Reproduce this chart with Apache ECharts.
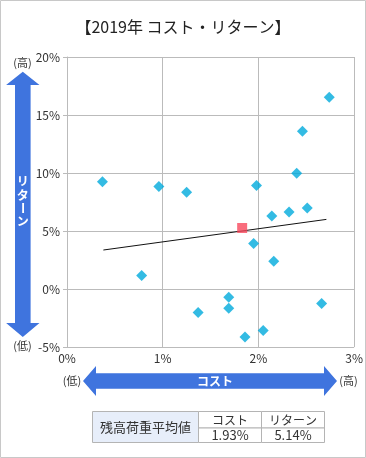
<!DOCTYPE html>
<html><head><meta charset="utf-8">
<script src="https://cdn.jsdelivr.net/npm/echarts@6/dist/echarts.min.js"></script>
<style>html,body{margin:0;padding:0;background:#fff}#c{width:366px;height:458px}</style>
</head><body><div id="c"></div>
<script>
var titleText = '【2019年 コスト・リターン】';
var xTicks = [0, 1, 2, 3];
var yTicks = [-5, 0, 5, 10, 15, 20];
// cost (%) and return (%) of each fund
var costs = [0.37, 0.96, 1.25, 0.78, 1.37, 1.69, 1.69, 1.86, 2.05, 1.95, 2.16, 1.98, 2.14, 2.32, 2.51, 2.40, 2.46, 2.74, 2.66];
var returns = [9.25, 8.84, 8.33, 1.17, -2.02, -0.72, -1.67, -4.14, -3.57, 3.93, 2.40, 8.93, 6.29, 6.64, 6.98, 9.97, 13.59, 16.52, -1.24];
var avgPoint = [1.83, 5.26];
var trendX = [0.38, 2.71];
var trendY = [3.36, 6.00];
var tableHead = ['残高荷重平均値', 'コスト', 'リターン'];
var tableVals = ['1.93%', '5.14%'];

var FONT = '"Noto Sans CJK JP", "Noto Sans", sans-serif';
var chart = echarts.init(document.getElementById('c'));
var pts = costs.map(function (c, i) { return [c, returns[i]]; });
var blue = '#3f74de';
var txt = '#333';

var graphics = [
  {type: 'rect', shape: {x: 0.5, y: 0.5, width: 365, height: 457}, style: {fill: 'none', stroke: '#c8c8c8', lineWidth: 1}, z: 0},
  // vertical arrow
  {type: 'polygon', shape: {points: [[22.8,71.7],[39.5,85],[30.6,85],[30.6,323],[39.5,323],[22.8,337],[6.1,323],[15,323],[15,85],[6.1,85]]}, style: {fill: blue}},
  {type: 'text', x: 22.5, y: 62.5, style: {text: '(高)', font: '11px ' + FONT, fill: txt, textAlign: 'center', textVerticalAlign: 'middle'}},
  {type: 'text', x: 22.5, y: 346, style: {text: '(低)', font: '11px ' + FONT, fill: txt, textAlign: 'center', textVerticalAlign: 'middle'}},
  {type: 'text', x: 22.8, y: 181, style: {text: 'リ', font: 'bold 12px ' + FONT, fill: '#fff', textAlign: 'center', textVerticalAlign: 'middle'}},
  {type: 'text', x: 22.8, y: 195, style: {text: 'タ', font: 'bold 12px ' + FONT, fill: '#fff', textAlign: 'center', textVerticalAlign: 'middle'}},
  {type: 'text', x: 22.8, y: 208, rotation: -Math.PI / 2, style: {text: 'ー', font: 'bold 12px ' + FONT, fill: '#fff', textAlign: 'center', textVerticalAlign: 'middle'}},
  {type: 'text', x: 22.8, y: 221, style: {text: 'ン', font: 'bold 12px ' + FONT, fill: '#fff', textAlign: 'center', textVerticalAlign: 'middle'}},
  // horizontal arrow
  {type: 'polygon', shape: {points: [[83,381],[96,366],[96,373.3],[324,373.3],[324,366],[337,381],[324,396],[324,388.7],[96,388.7],[96,396]]}, style: {fill: blue}},
  {type: 'text', x: 72, y: 381, style: {text: '(低)', font: '11px ' + FONT, fill: txt, textAlign: 'center', textVerticalAlign: 'middle'}},
  {type: 'text', x: 348.5, y: 381, style: {text: '(高)', font: '11px ' + FONT, fill: txt, textAlign: 'center', textVerticalAlign: 'middle'}},
  {type: 'text', x: 215, y: 381, style: {text: 'コスト', font: 'bold 12px ' + FONT, fill: '#fff', textAlign: 'center', textVerticalAlign: 'middle'}},
  // table
  {type: 'rect', shape: {x: 92.5, y: 411.5, width: 106, height: 31}, style: {fill: '#e7eefa', stroke: '#b4b4b4', lineWidth: 1}},
  {type: 'rect', shape: {x: 198.5, y: 411.5, width: 63, height: 16.5}, style: {fill: '#fff', stroke: '#b4b4b4', lineWidth: 1}},
  {type: 'rect', shape: {x: 261.5, y: 411.5, width: 63, height: 16.5}, style: {fill: '#fff', stroke: '#b4b4b4', lineWidth: 1}},
  {type: 'rect', shape: {x: 198.5, y: 428, width: 63, height: 14.5}, style: {fill: '#fff', stroke: '#b4b4b4', lineWidth: 1}},
  {type: 'rect', shape: {x: 261.5, y: 428, width: 63, height: 14.5}, style: {fill: '#fff', stroke: '#b4b4b4', lineWidth: 1}},
  {type: 'text', x: 145.5, y: 427, style: {text: tableHead[0], font: '13px ' + FONT, fill: txt, textAlign: 'center', textVerticalAlign: 'middle'}},
  {type: 'text', x: 230, y: 420, style: {text: tableHead[1], font: '12px ' + FONT, fill: txt, textAlign: 'center', textVerticalAlign: 'middle'}},
  {type: 'text', x: 293, y: 420, style: {text: tableHead[2], font: '12px ' + FONT, fill: txt, textAlign: 'center', textVerticalAlign: 'middle'}},
  {type: 'text', x: 230, y: 435.5, style: {text: tableVals[0], font: '13px ' + FONT, fill: txt, textAlign: 'center', textVerticalAlign: 'middle'}},
  {type: 'text', x: 293, y: 435.5, style: {text: tableVals[1], font: '13px ' + FONT, fill: txt, textAlign: 'center', textVerticalAlign: 'middle'}}
];

chart.setOption({
  animation: false,
  title: {text: titleText, left: 'center', top: 14, textStyle: {fontFamily: FONT, fontSize: 16, fontWeight: 'normal', color: '#222'}},
  grid: {left: 67, right: 11, top: 57, bottom: 111},
  xAxis: {
    type: 'value', min: 0, max: 3, interval: 1,
    axisLine: {show: true, lineStyle: {color: '#bbb'}},
    axisTick: {show: true, length: 4, lineStyle: {color: '#bbb'}},
    splitLine: {show: true, lineStyle: {color: '#bbb'}},
    axisLabel: {margin: 5, fontFamily: FONT, fontSize: 12, color: txt, formatter: function (v) { return xTicks.indexOf(v) >= 0 ? v + '%' : ''; }}
  },
  yAxis: {
    type: 'value', min: -5, max: 20, interval: 5,
    axisLine: {show: true, lineStyle: {color: '#bbb'}},
    axisTick: {show: true, length: 4, lineStyle: {color: '#bbb'}},
    splitLine: {show: true, lineStyle: {color: '#bbb'}},
    axisLabel: {margin: 7, fontFamily: FONT, fontSize: 12, color: txt, formatter: function (v) { return yTicks.indexOf(v) >= 0 ? v + '%' : ''; }}
  },
  series: [
    {type: 'line', data: [[trendX[0], trendY[0]], [trendX[1], trendY[1]]], symbol: 'none', lineStyle: {color: '#111', width: 1}, z: 3},
    {type: 'scatter', data: pts, symbol: 'diamond', symbolSize: 11, itemStyle: {color: '#00aadc'}, z: 4},
    {type: 'scatter', data: [avgPoint], symbol: 'rect', symbolSize: 10, itemStyle: {color: '#f7485c'}, z: 5}
  ],
  graphic: graphics
});
</script></body></html>
